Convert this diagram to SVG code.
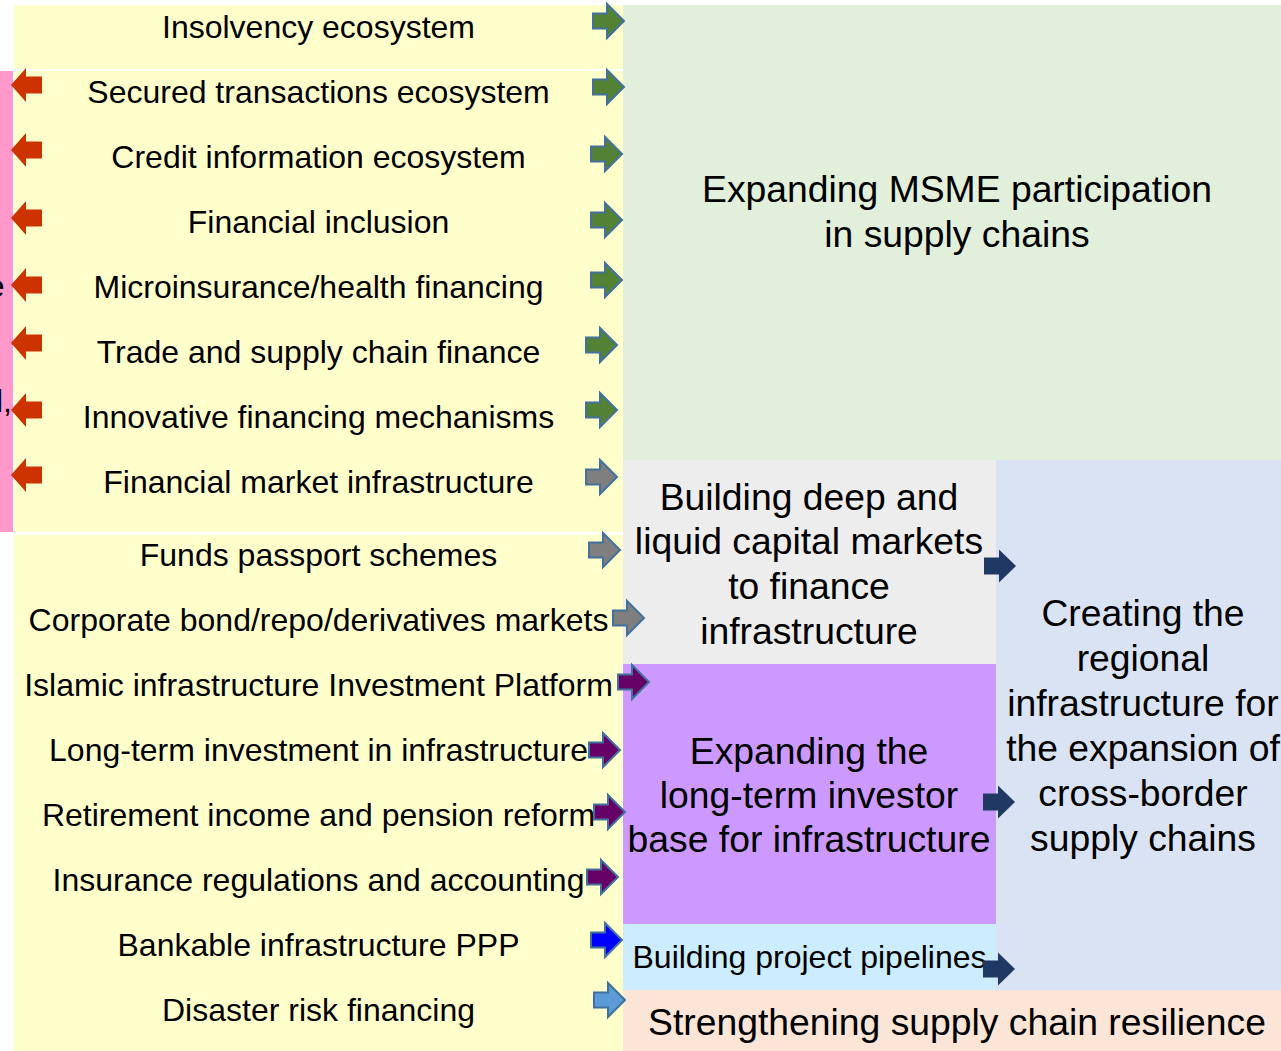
<svg xmlns="http://www.w3.org/2000/svg" xmlns:xlink="http://www.w3.org/1999/xlink" width="1281" height="1051" viewBox="0 0 1281 1051">
<style>
text{font-family:"Liberation Sans",Arial,sans-serif;fill:#000}
.l{font-size:32px;text-anchor:middle}
.b{font-size:37.3px;text-anchor:middle}
.s{font-size:32px;text-anchor:middle}
.ar{stroke:#41719C;stroke-width:2}
.g{fill:#548235}.gy{fill:#7F7F7F}.p{fill:#660066}.bl{fill:#0000FF}.lb{fill:#5B9BD5}
.red{fill:#CC3300}.navy{fill:#203864}
</style>
<defs>
<path id="ra" d="M0,-7.5 H14 V-17 L31,0 L14,17 V7.5 H0 Z"/>
<path id="la" d="M0,0 L15,-17 V-8.5 H31 V8.5 H15 V17 Z"/>
<path id="na" d="M0,-8.5 H15 V-16.5 L32,0 L15,16.5 V8.5 H0 Z"/>
</defs>
<rect width="1281" height="1051" fill="#fff"/>
<g id="pink-bar"><rect x="0" y="71" width="13" height="461" fill="#FF99CC"/>
<text x="4.5" y="297" style="font-size:32px;text-anchor:end">e</text>
<text x="12" y="412" style="font-size:32px;text-anchor:end">l,</text></g>
<g id="left-box-1"><rect x="14" y="5" width="609" height="64" fill="#FFFFCC"/>
<text class="l" x="318.5" y="38">Insolvency ecosystem</text></g>
<g id="left-box-2"><rect x="14" y="71" width="609" height="461" fill="#FFFFCC"/>
<text class="l" x="318.5" y="103">Secured transactions ecosystem</text>
<text class="l" x="318.5" y="168">Credit information ecosystem</text>
<text class="l" x="318.5" y="233">Financial inclusion</text>
<text class="l" x="318.5" y="298">Microinsurance/health financing</text>
<text class="l" x="318.5" y="363">Trade and supply chain finance</text>
<text class="l" x="318.5" y="428">Innovative financing mechanisms</text>
<text class="l" x="318.5" y="493">Financial market infrastructure</text></g>
<g id="left-box-3"><rect x="14" y="535" width="609" height="516" fill="#FFFFCC"/>
<text class="l" x="318.5" y="566">Funds passport schemes</text>
<text class="l" x="318.5" y="631">Corporate bond/repo/derivatives markets</text>
<text class="l" x="318.5" y="696">Islamic infrastructure Investment Platform</text>
<text class="l" x="318.5" y="761">Long-term investment in infrastructure</text>
<text class="l" x="318.5" y="826">Retirement income and pension reform</text>
<text class="l" x="318.5" y="891">Insurance regulations and accounting</text>
<text class="l" x="318.5" y="956">Bankable infrastructure PPP</text>
<text class="l" x="318.5" y="1021">Disaster risk financing</text></g>
<g id="msme"><rect x="623" y="5" width="658" height="455" fill="#E2EFDA"/>
<text class="b" x="957" y="202">Expanding MSME participation</text>
<text class="b" x="957" y="247">in supply chains</text></g>
<g id="capital-markets"><rect x="623" y="460" width="373" height="204" fill="#EDEDED"/>
<text class="b" x="809" y="510">Building deep and</text>
<text class="b" x="809" y="554">liquid capital markets</text>
<text class="b" x="809" y="599">to finance</text>
<text class="b" x="809" y="644">infrastructure</text></g>
<g id="investor-base"><rect x="623" y="664" width="373" height="260" fill="#CC99FF"/>
<text class="b" x="809" y="764">Expanding the</text>
<text class="b" x="809" y="808">long-term investor</text>
<text class="b" x="809" y="852">base for infrastructure</text></g>
<g id="pipelines"><rect x="623" y="924" width="373" height="66" fill="#CCECFF"/>
<text class="s" x="809.5" y="968">Building project pipelines</text></g>
<g id="regional-infra"><rect x="996" y="460" width="285" height="530" fill="#DAE3F3"/>
<text class="b" x="1143" y="626">Creating the</text>
<text class="b" x="1143" y="671">regional</text>
<text class="b" x="1143" y="716">infrastructure for</text>
<text class="b" x="1143" y="761">the expansion of</text>
<text class="b" x="1143" y="806">cross-border</text>
<text class="b" x="1143" y="851">supply chains</text></g>
<g id="resilience"><rect x="623" y="990" width="658" height="61" fill="#FBE5D6"/>
<text class="b" x="957" y="1035">Strengthening supply chain resilience</text></g>
<g id="connectors">
<use href="#la" class="red" x="11" y="85"/>
<use href="#la" class="red" x="11" y="150"/>
<use href="#la" class="red" x="11" y="218"/>
<use href="#la" class="red" x="11" y="285"/>
<use href="#la" class="red" x="11" y="343"/>
<use href="#la" class="red" x="11" y="410"/>
<use href="#la" class="red" x="11" y="475"/>
<use href="#ra" class="ar g" x="593" y="21"/>
<use href="#ra" class="ar g" x="593" y="87"/>
<use href="#ra" class="ar g" x="591" y="154"/>
<use href="#ra" class="ar g" x="591" y="220"/>
<use href="#ra" class="ar g" x="591" y="280"/>
<use href="#ra" class="ar g" x="586" y="345"/>
<use href="#ra" class="ar g" x="586" y="410"/>
<use href="#ra" class="ar gy" x="586" y="477"/>
<use href="#ra" class="ar gy" x="589" y="550"/>
<use href="#ra" class="ar gy" x="613" y="618"/>
<use href="#ra" class="ar p" x="618" y="682"/>
<use href="#ra" class="ar p" x="589" y="750"/>
<use href="#ra" class="ar p" x="594" y="812"/>
<use href="#ra" class="ar p" x="587" y="877"/>
<use href="#ra" class="ar bl" x="591" y="940"/>
<use href="#ra" class="ar lb" x="594" y="1000"/>
<use href="#na" class="navy" x="984" y="566"/>
<use href="#na" class="navy" x="983" y="802"/>
<use href="#na" class="navy" x="983" y="969"/>
</g>
</svg>
